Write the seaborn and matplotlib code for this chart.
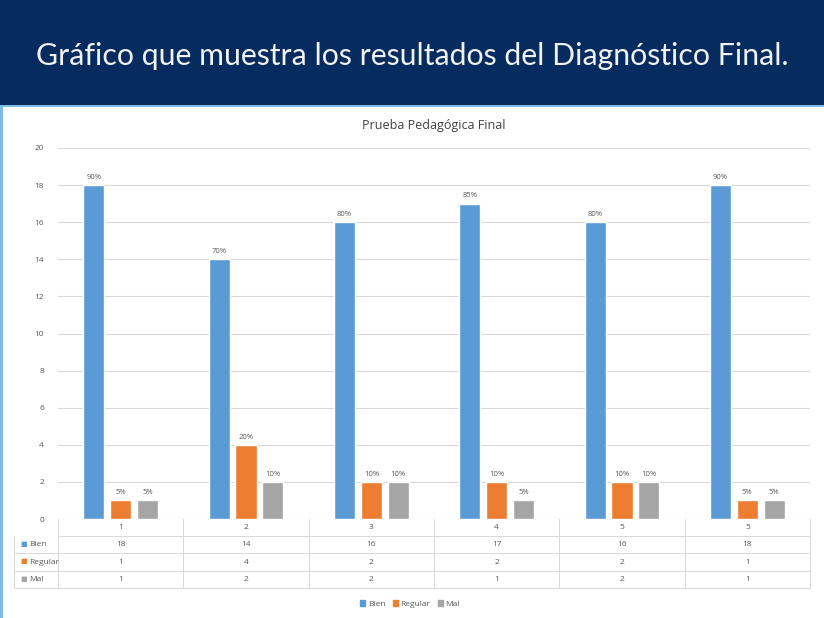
import pandas as pd
import seaborn as sns
import matplotlib.pyplot as plt
from matplotlib.patches import Rectangle

# data
categorias = ["1", "2", "3", "4", "5", "5"]
bien = [18, 14, 16, 17, 16, 18]
regular = [1, 4, 2, 2, 2, 1]
mal = [1, 2, 2, 1, 2, 1]
series = ["Bien", "Regular", "Mal"]
colores = ["#5B9BD5", "#ED7D31", "#A5A5A5"]

sns.set_theme(style="white")
plt.rcParams["font.family"] = ["Open Sans", "DejaVu Sans"]

rows = []
for i in range(len(categorias)):
    for nombre, vals in zip(series, [bien, regular, mal]):
        rows.append({"grupo": i, "serie": nombre, "valor": vals[i]})
df = pd.DataFrame(rows)
totales = [b + r + m for b, r, m in zip(bien, regular, mal)]

fig = plt.figure(figsize=(8.24, 6.18), dpi=100)
fig.patch.set_facecolor("white")

# banner at the top
fig.patches.append(Rectangle((0, 1 - 105 / 618), 1, 105 / 618, transform=fig.transFigure,
                             facecolor="#062B5E", edgecolor="none", zorder=0))
fig.patches.append(Rectangle((0, 1 - 107 / 618), 1, 2 / 618, transform=fig.transFigure,
                             facecolor="#7DBCE6", edgecolor="none", zorder=0))
fig.patches.append(Rectangle((0, 0.0), 3 / 824, 1 - 105 / 618, transform=fig.transFigure,
                             facecolor="#7DBCE6", edgecolor="none", zorder=0))
fig.text(0.5, 1 - 56 / 618, "Gráfico que muestra los resultados del Diagnóstico Final.",
         color="#F2F2F2", fontsize=21.8, ha="center", va="center",
         family=["Lato", "DejaVu Sans"])

ax = fig.add_axes([58 / 824, 1 - 519 / 618, 752 / 824, 371 / 618])
sns.barplot(data=df, x="grupo", y="valor", hue="serie", hue_order=series,
            palette=colores, width=0.645, gap=0.22, saturation=1, ax=ax, legend=False)

for cont, vals in zip(ax.containers, [bien, regular, mal]):
    etiquetas = [f"{v / t * 100:.0f}%" for v, t in zip(vals, totales)]
    ax.bar_label(cont, labels=etiquetas, padding=3, fontsize=5.5, color="#595959")

ax.set_ylim(0, 20)
ax.set_xlim(-0.5, len(categorias) - 0.5)
ax.set_yticks(range(0, 21, 2))
ax.tick_params(axis="y", labelsize=6, labelcolor="#595959", length=0, pad=10)
ax.set_xticks([])
ax.set_xlabel("")
ax.set_ylabel("")
ax.yaxis.grid(True, color="#D9D9D9", linewidth=0.8)
ax.set_axisbelow(True)
for s in ax.spines.values():
    s.set_visible(False)
ax.set_title("Prueba Pedagógica Final", fontsize=9, color="#404040", pad=14)

# data table under the chart
tr = ax.get_xaxis_transform()
fila = 17.2 / 371
izq = -0.5 - 44 / 125.3
n = len(categorias)
linea = dict(color="#D9D9D9", linewidth=0.7, clip_on=False, transform=tr)
for k in range(1, 5):
    ax.plot([izq if k > 1 else -0.5, n - 0.5], [-k * fila] * 2, **linea)
ax.plot([izq, izq], [-fila, -4 * fila], **linea)
for j in range(n + 1):
    ax.plot([j - 0.5] * 2, [0, -4 * fila], **linea)
for j, c in enumerate(categorias):
    ax.text(j, -0.5 * fila, c, transform=tr, ha="center", va="center", fontsize=6, color="#595959")
for k, (nombre, vals, col) in enumerate(zip(series, [bien, regular, mal], colores), start=1):
    y = -(k + 0.5) * fila
    ax.text(izq + 0.05, y, "■", transform=tr, ha="left", va="center", fontsize=5, color=col)
    ax.text(izq + 0.12, y, nombre, transform=tr, ha="left", va="center", fontsize=6, color="#595959")
    for j, v in enumerate(vals):
        ax.text(j, y, str(v), transform=tr, ha="center", va="center", fontsize=6, color="#595959")

handles = [Rectangle((0, 0), 1, 1, color=c) for c in colores]
fig.legend(handles, series, loc="center", bbox_to_anchor=(410 / 824, 1 - 604 / 618), ncol=3,
           frameon=False, fontsize=6, handlelength=0.6, handleheight=0.6, handletextpad=0.3,
           columnspacing=0.9, labelcolor="#595959")

fig.savefig("out.png", dpi=100)
